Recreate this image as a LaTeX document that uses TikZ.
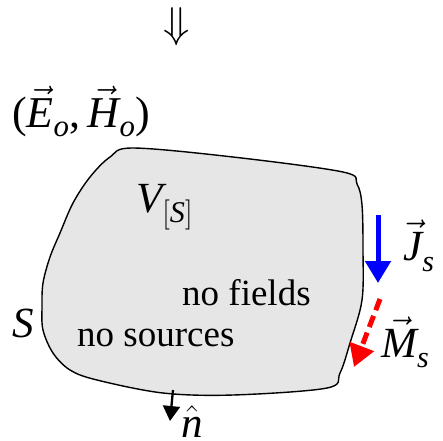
\RequirePackage{fix-cm}
\documentclass[tikz,border=0pt]{standalone}
\usepackage{amsmath}
\usepackage{fontspec}
\setmainfont{Liberation Serif}
\usetikzlibrary{arrows.meta}
\newcommand\lsub[2][3pt]{\lower#1\hbox{$\scriptstyle #2$}}
\begin{document}
\begin{tikzpicture}[x=1pt,y=-1pt,
  lbl/.style={font=\fontsize{37}{40}\selectfont, inner sep=0pt, anchor=base west},
  sym/.style={font=\fontsize{43}{46}\selectfont, inner sep=0pt, anchor=base west},
  arr/.style={line width=5pt, -{Triangle[length=22pt,width=25pt]}}]
\useasboundingbox (0,0) rectangle (443,440);
% surface
\draw[line width=1.4pt, fill={rgb,255:red,230;green,230;blue,230}]
  plot[smooth cycle, tension=0.55] coordinates {
  (133,148) (233,157) (343,172) (357,184) (362,205) (363,250) (362,300)
  (350,343) (340,373) (327,388) (233,395) (163,393) (97,380) (70,370)
  (53,353) (43,330) (42,307) (43,283) (50,257) (60,233) (73,203) (90,177) (110,157)};
% labels
\node[sym, anchor=center] (dn) at (177,27) {$\Downarrow$};
\node[sym, font=\fontsize{44}{46}\selectfont] (eh) at (12,127)
  {($\vec{\textit{E}}_{\lsub{\textit{o}}}$,$\,\vec{\textit{H}}_{\lsub{\textit{o}}}$)};
\node[sym] (vs) at (136,212) {$\textit{V}_{\lsub[4pt]{[\textit{S}]}}$};
\node[lbl] (nf) at (182,305) {no fields};
\node[lbl] (ns) at (77,346) {no sources};
\node[sym] (s) at (12,337) {\textit{S}};
\node[sym] (js) at (403,260) {$\vec{\textit{J}}_{\lsub[5pt]{\textit{s}}}$};
\node[sym] (ms) at (381,357) {$\vec{\textit{M}}_{\lsub[4pt]{\textit{s}}}$};
\node[sym] (nh) at (181,437) {$\hat{\textit{n}}$};
% arrows
\coordinate (j0) at (378,215); \coordinate (j1) at (378,283);
\coordinate (m0) at (380,299); \coordinate (m1) at (354,367);
\coordinate (n0) at (173,390); \coordinate (n1) at (170,421);
\draw[arr, blue] (j0) -- (j1);
\draw[arr, red, dash pattern=on 12pt off 6pt] (m0) -- (m1);
\draw[line width=2.3pt, -{Triangle[length=15pt,width=17pt]}] (n0) -- (n1);
\end{tikzpicture}
\end{document}
